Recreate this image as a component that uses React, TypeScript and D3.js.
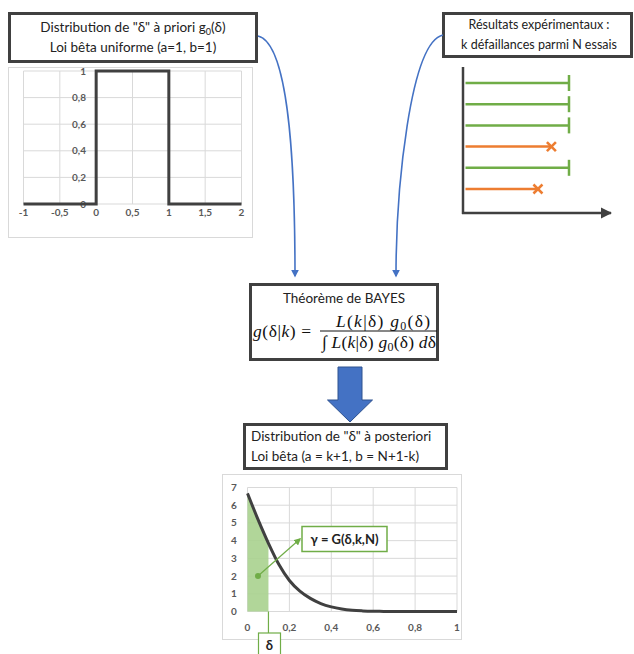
import React from "react";
import * as d3 from "d3";

// ---------- DATA ----------
const priorX = [-1, 0, 0, 1, 1, 2];
const priorY = [0, 0, 1, 1, 0, 0];
const priorXTicks = [-1, -0.5, 0, 0.5, 1, 1.5, 2];
const priorYTicks = [0, 0.2, 0.4, 0.6, 0.8, 1];

const trialEnd = [1, 1, 1, 0.83, 1, 0.7];
const trialFailed = [false, false, false, true, false, true];

const postX = [0, 0.05, 0.1, 0.15, 0.2, 0.25, 0.3, 0.35, 0.4, 0.45, 0.5, 0.55, 0.6, 0.65, 0.7, 0.75, 0.8, 0.85, 0.9, 0.95, 1];
const postY = [6.67, 5.2, 3.85, 2.65, 1.75, 1.15, 0.74, 0.45, 0.26, 0.14, 0.07, 0.035, 0.015, 0.006, 0.002, 0, 0, 0, 0, 0, 0];
const postXTicks = [0, 0.2, 0.4, 0.6, 0.8, 1];
const postYTicks = [0, 1, 2, 3, 4, 5, 6, 7];
const deltaValue = 0.1;
const calloutPoint = { x: 0.05, y: 2 };

const fmt = (v: number) => String(v).replace(".", ",");

const DARK = "#404040";
const GRID = "#D9D9D9";
const LABEL = "#595959";
const GREEN = "#70AD47";
const ORANGE = "#ED7D31";
const BLUE = "#4472C4";
const FONT = "Lato, 'Open Sans', sans-serif";
const MATH = "'Liberation Serif', 'DejaVu Serif', serif";

export default function App() {
  // prior chart scales
  const px = d3.scaleLinear().domain([-1, 2]).range([23.5, 241.5]);
  const py = d3.scaleLinear().domain([0, 1]).range([204, 71]);
  const priorLine = d3.line<number>().x((_, i) => px(priorX[i])).y((d) => py(d));

  // trials
  const tx = d3.scaleLinear().domain([0, 1]).range([465.5, 569]);
  const ty = d3.scalePoint<number>().domain(d3.range(trialEnd.length)).range([83, 189]);

  // posterior scales
  const qx = d3.scaleLinear().domain([0, 1]).range([247.5, 457]);
  const qy = d3.scaleLinear().domain([0, 7]).range([611.5, 487.5]);
  const pts = postX.map((x, i) => [x, postY[i]] as [number, number]);
  const postLine = d3.line<[number, number]>().x((d) => qx(d[0])).y((d) => qy(d[1])).curve(d3.curveMonotoneX);
  const postArea = d3
    .area<[number, number]>()
    .x((d) => qx(d[0]))
    .y0(qy(0))
    .y1((d) => qy(d[1]))
    .curve(d3.curveMonotoneX);
  const areaPts = pts.filter((d) => d[0] <= deltaValue + 1e-9);

  const labelStyle = { fontFamily: FONT, fontSize: 10, fontWeight: 700, fill: LABEL } as const;
  const mathStyle = { fontFamily: MATH, fontSize: 17.5, fill: "#111" } as const;

  return (
    <svg width={634} height={654} style={{ position: "absolute", left: 0, top: 0, background: "#fff" }}>
      <defs>
        <marker id="blueHead" viewBox="0 0 10 10" refX="8" refY="5" markerWidth="5" markerHeight="5" orient="auto">
          <path d="M0,0 L10,5 L0,10 z" fill={BLUE} />
        </marker>
        <marker id="greenHead" viewBox="0 0 10 10" refX="8" refY="5" markerWidth="6" markerHeight="6" orient="auto">
          <path d="M0,0 L10,5 L0,10 z" fill={GREEN} />
        </marker>
        <marker id="darkHead" viewBox="0 0 10 10" refX="9" refY="5" markerWidth="4.5" markerHeight="4.5" orient="auto">
          <path d="M0,0 L10,5 L0,10 z" fill={DARK} />
        </marker>
      </defs>

      {/* ---------- Prior title box ---------- */}
      <rect x={9.5} y={13.5} width={247} height={48} fill="#fff" stroke={DARK} strokeWidth={3} />
      <text x={133} y={32} textAnchor="middle" style={{ fontFamily: FONT, fontSize: 13.5, fill: "#222" }}>
        Distribution de "δ" à priori g
        <tspan fontSize={9} dy={3}>0</tspan>
        <tspan dy={-3}>(δ)</tspan>
      </text>
      <text x={133} y={52} textAnchor="middle" style={{ fontFamily: FONT, fontSize: 13.5, fill: "#222" }}>
        Loi bêta uniforme (a=1, b=1)
      </text>

      {/* ---------- Prior chart ---------- */}
      <rect x={8.5} y={67.5} width={244} height={170} fill="#fff" stroke={GRID} strokeWidth={1} />
      {priorXTicks.map((t) => (
        <line key={"pvx" + t} x1={px(t)} x2={px(t)} y1={py(0)} y2={py(1)} stroke={GRID} strokeWidth={1} />
      ))}
      {priorYTicks.map((t) => (
        <line key={"pvy" + t} x1={px(-1)} x2={px(2)} y1={py(t)} y2={py(t)} stroke={GRID} strokeWidth={1} />
      ))}
      {priorYTicks.map((t) => (
        <text key={"ply" + t} x={86} y={py(t) + 3.5} textAnchor="end" style={labelStyle}>
          {fmt(t)}
        </text>
      ))}
      {priorXTicks.map((t) => (
        <text key={"plx" + t} x={px(t)} y={215.5} textAnchor="middle" style={labelStyle}>
          {fmt(t)}
        </text>
      ))}
      <path d={priorLine(priorY) || ""} fill="none" stroke={DARK} strokeWidth={3} strokeLinejoin="miter" />

      {/* ---------- Experimental results box ---------- */}
      <rect x={443.5} y={13.5} width={188} height={43} fill="#fff" stroke={DARK} strokeWidth={3} />
      <text x={539} y={29} textAnchor="middle" style={{ fontFamily: FONT, fontSize: 12.5, fill: "#222" }}>
        Résultats expérimentaux :
      </text>
      <text x={539} y={49} textAnchor="middle" style={{ fontFamily: FONT, fontSize: 12.5, fill: "#222" }}>
        k défaillances parmi N essais
      </text>

      {/* trials axes */}
      <line x1={463} x2={463} y1={67} y2={214} stroke={DARK} strokeWidth={2.5} />
      <line x1={462} x2={611} y1={213} y2={213} stroke={DARK} strokeWidth={2.5} markerEnd="url(#darkHead)" />
      {trialEnd.map((e, i) => {
        const y = ty(i) as number;
        const xe = tx(e);
        const c = trialFailed[i] ? ORANGE : GREEN;
        return (
          <g key={"tr" + i}>
            <line x1={tx(0)} x2={xe} y1={y} y2={y} stroke={c} strokeWidth={2.5} />
            {trialFailed[i] ? (
              <g stroke={c} strokeWidth={2.5}>
                <line x1={xe - 4.5} x2={xe + 4.5} y1={y - 4.5} y2={y + 4.5} />
                <line x1={xe - 4.5} x2={xe + 4.5} y1={y + 4.5} y2={y - 4.5} />
              </g>
            ) : (
              <line x1={xe} x2={xe} y1={y - 8} y2={y + 8} stroke={c} strokeWidth={2.5} />
            )}
          </g>
        );
      })}

      {/* ---------- blue curved connectors ---------- */}
      <path d="M258,36 C292,44 295,190 295,276" fill="none" stroke={BLUE} strokeWidth={1.6} markerEnd="url(#blueHead)" />
      <path d="M443,35 C410,42 396,190 396,276" fill="none" stroke={BLUE} strokeWidth={1.6} markerEnd="url(#blueHead)" />

      {/* ---------- Bayes box ---------- */}
      <rect x={250.5} y={284.5} width={187} height={75} fill="#fff" stroke={DARK} strokeWidth={3} />
      <text x={344} y={303} textAnchor="middle" style={{ fontFamily: FONT, fontSize: 13.5, fill: "#222" }}>
        Théorème de BAYES
      </text>
      <text x={253} y={337} textLength={58} lengthAdjust="spacing" style={mathStyle}>
        <tspan fontStyle="italic">g</tspan>(δ|<tspan fontStyle="italic">k</tspan>) =
      </text>
      <line x1={320} x2={437} y1={331} y2={331} stroke="#111" strokeWidth={1} />
      <text x={336} y={326.5} textLength={94} lengthAdjust="spacing" style={mathStyle}>
        <tspan fontStyle="italic">L</tspan>(<tspan fontStyle="italic">k</tspan>|δ) <tspan fontStyle="italic">g</tspan>
        <tspan fontSize={12} dy={3}>0</tspan>
        <tspan dy={-3}>(δ)</tspan>
      </text>
      <text x={322} y={348} textLength={114} lengthAdjust="spacing" style={mathStyle}>
        ∫ <tspan fontStyle="italic">L</tspan>(<tspan fontStyle="italic">k</tspan>|δ) <tspan fontStyle="italic">g</tspan>
        <tspan fontSize={12} dy={3}>0</tspan>
        <tspan dy={-3}>(δ) </tspan>
        <tspan fontStyle="italic">d</tspan>δ
      </text>

      {/* ---------- big block arrow ---------- */}
      <polygon
        points="338,367 362,367 362,400 372.5,400 350,422 327.5,400 338,400"
        fill={BLUE}
        stroke="#2F528F"
        strokeWidth={1}
      />

      {/* ---------- Posterior box ---------- */}
      <rect x={244.5} y={424.5} width={202} height={44} fill="#fff" stroke={DARK} strokeWidth={3} />
      <text x={251} y={441} style={{ fontFamily: FONT, fontSize: 13.5, fill: "#222" }}>
        Distribution de "δ" à posteriori
      </text>
      <text x={251} y={461} style={{ fontFamily: FONT, fontSize: 13.5, fill: "#222" }}>
        Loi bêta (a = k+1, b = N+1-k)
      </text>

      {/* ---------- Posterior chart ---------- */}
      <rect x={222.5} y={474.5} width={239} height={165} fill="#fff" stroke={GRID} strokeWidth={1} />
      {postXTicks.map((t) => (
        <line key={"qvx" + t} x1={qx(t)} x2={qx(t)} y1={qy(0)} y2={qy(7)} stroke={GRID} strokeWidth={1} />
      ))}
      {postYTicks.map((t) => (
        <line key={"qvy" + t} x1={qx(0)} x2={qx(1)} y1={qy(t)} y2={qy(t)} stroke={GRID} strokeWidth={1} />
      ))}
      {postYTicks.map((t) => (
        <text key={"qly" + t} x={234} y={qy(t) + 3.5} textAnchor="middle" style={labelStyle}>
          {fmt(t)}
        </text>
      ))}
      {postXTicks.map((t) => (
        <text key={"qlx" + t} x={qx(t)} y={630.5} textAnchor="middle" style={labelStyle}>
          {fmt(t)}
        </text>
      ))}
      <path d={postArea(areaPts) || ""} fill="#A9D18E" opacity={0.9} />
      <path d={postLine(pts) || ""} fill="none" stroke={DARK} strokeWidth={3} />

      {/* delta marker */}
      <line x1={qx(deltaValue)} x2={qx(deltaValue)} y1={qy(0)} y2={633} stroke={GREEN} strokeWidth={1.2} />
      <rect x={258.5} y={633} width={22} height={26} fill="#fff" stroke={GREEN} strokeWidth={1.2} />
      <text x={269.5} y={650} textAnchor="middle" style={{ fontFamily: FONT, fontSize: 13, fontWeight: 700, fill: "#222" }}>
        δ
      </text>

      {/* callout */}
      <line
        x1={qx(calloutPoint.x)}
        y1={qy(calloutPoint.y)}
        x2={300}
        y2={539}
        stroke={GREEN}
        strokeWidth={1.2}
        markerEnd="url(#greenHead)"
      />
      <circle cx={qx(calloutPoint.x)} cy={qy(calloutPoint.y)} r={3} fill={GREEN} />
      <rect x={302} y={526.5} width={85} height={25} fill="#fff" stroke={GREEN} strokeWidth={1.5} />
      <text x={344.5} y={544} textAnchor="middle" style={{ fontFamily: FONT, fontSize: 13, fontWeight: 700, fill: "#222" }}>
        γ = G(δ,k,N)
      </text>
    </svg>
  );
}
